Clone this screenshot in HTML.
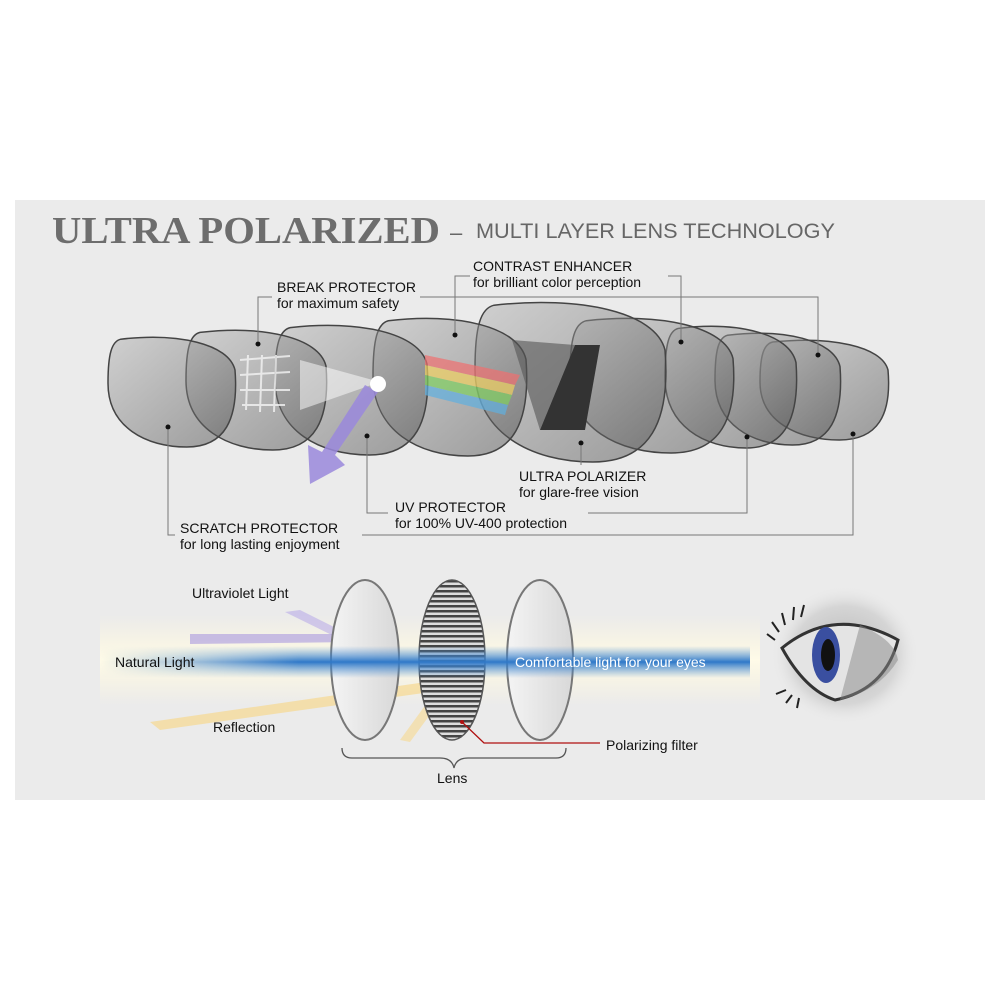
<!DOCTYPE html>
<html><head><meta charset="utf-8"><style>
html,body{margin:0;padding:0;background:#fff;width:1000px;height:1000px;overflow:hidden}
svg{display:block}
.s{font-family:"Liberation Sans",sans-serif}
.t{font-family:"Liberation Serif",serif}
</style></head><body>
<svg width="1000" height="1000" viewBox="0 0 1000 1000" xmlns="http://www.w3.org/2000/svg">
<defs>
<linearGradient id="lg" x1="0" y1="0" x2="1" y2="1">
<stop offset="0" stop-color="#b5b5b5"/><stop offset="1" stop-color="#4a4a4a"/></linearGradient>
<path id="lens" vector-effect="non-scaling-stroke" d="M10,2 C55,-4 95,6 100,30 C103,75 92,100 62,100 C30,100 0,82 0,42 C0,15 3,4 10,2 Z"/>
<linearGradient id="beam" x1="0" y1="0" x2="0" y2="1">
<stop offset="0" stop-color="#fff8dc" stop-opacity="0"/><stop offset="0.5" stop-color="#fffbe8" stop-opacity="1"/><stop offset="1" stop-color="#fff8dc" stop-opacity="0"/></linearGradient>
<linearGradient id="blue" x1="0" y1="0" x2="0" y2="1">
<stop offset="0" stop-color="#5a9ad8" stop-opacity="0"/><stop offset="0.5" stop-color="#2f78c8"/><stop offset="1" stop-color="#5a9ad8" stop-opacity="0"/></linearGradient>
<linearGradient id="blueh" x1="0" y1="0" x2="1" y2="0">
<stop offset="0" stop-color="#fff" stop-opacity="0"/><stop offset="0.3" stop-color="#fff" stop-opacity="1"/><stop offset="1" stop-color="#fff" stop-opacity="1"/></linearGradient>
<mask id="bm"><rect x="100" y="630" width="660" height="60" fill="url(#blueh)"/></mask>
<linearGradient id="disc" x1="0" y1="0" x2="1" y2="0">
<stop offset="0" stop-color="#f4f4f4"/><stop offset="1" stop-color="#d8d8d8"/></linearGradient>
<pattern id="stripes" width="4" height="5" patternUnits="userSpaceOnUse"><rect width="4" height="5" fill="#ddd"/><rect width="4" height="2.5" fill="#444"/></pattern>
<radialGradient id="eyeg" cx="0.5" cy="0.5" r="0.5"><stop offset="0" stop-color="#777"/><stop offset="0.7" stop-color="#bbb"/><stop offset="1" stop-color="#eee" stop-opacity="0"/></radialGradient>
</defs>
<rect x="15" y="200" width="970" height="600" fill="#ebebeb"/>
<text class="t" x="52" y="243" font-size="38" font-weight="bold" fill="#6d6d6d" textLength="388" lengthAdjust="spacingAndGlyphs">ULTRA POLARIZED</text>
<text class="s" x="450" y="240" font-size="22" fill="#666">–</text>
<text class="s" x="476" y="238" font-size="21" fill="#666" textLength="359" lengthAdjust="spacingAndGlyphs">MULTI LAYER LENS TECHNOLOGY</text>

<g fill="url(#lg)" fill-opacity="0.5" stroke="#444" stroke-width="1.5">
<use href="#lens" transform="translate(760,340) scale(1.28,1.0)"/>
<use href="#lens" transform="translate(715,333) scale(1.25,1.12)"/>
<use href="#lens" transform="translate(665,326) scale(1.31,1.22)"/>
<use href="#lens" transform="translate(570,318) scale(1.63,1.35)"/>
<use href="#lens" transform="translate(475,302) scale(1.9,1.6)"/>
<use href="#lens" transform="translate(373,318) scale(1.53,1.38)"/>
<use href="#lens" transform="translate(275,325) scale(1.52,1.3)"/>
<use href="#lens" transform="translate(186,330) scale(1.4,1.2)"/>
<use href="#lens" transform="translate(108,337) scale(1.27,1.1)"/>
</g>
<g stroke="#f4f4f4" stroke-width="2" opacity="0.8">
<line x1="240" y1="360" x2="290" y2="356"/><line x1="240" y1="375" x2="290" y2="372"/><line x1="240" y1="390" x2="290" y2="390"/><line x1="242" y1="405" x2="285" y2="405"/>
<line x1="248" y1="355" x2="246" y2="410"/><line x1="262" y1="355" x2="260" y2="412"/><line x1="276" y1="355" x2="274" y2="412"/>
</g>
<polygon points="300,360 380,382 300,410" fill="#fff" opacity="0.5"/>
<polygon points="365,385 378,392 335,455 345,465 310,484 308,445 322,452" fill="#9a88dc" opacity="0.85"/>
<circle cx="378" cy="384" r="8" fill="#fff"/>
<g opacity="0.7">
<polygon points="425,355 520,375 515,385 425,365" fill="#f07070"/>
<polygon points="425,365 515,385 512,395 425,375" fill="#f0d060"/>
<polygon points="425,375 512,395 508,405 425,385" fill="#80d060"/>
<polygon points="425,385 508,405 505,415 425,395" fill="#60b0e0"/>
</g>
<polygon points="512,340 575,345 540,430" fill="#555" opacity="0.6"/>
<polygon points="600,345 575,345 540,430 585,430" fill="#333"/>
<g fill="#111"><circle cx="258" cy="344" r="2.5"/><circle cx="455" cy="335" r="2.5"/><circle cx="681" cy="342" r="2.5"/><circle cx="818" cy="355" r="2.5"/><circle cx="168" cy="427" r="2.5"/><circle cx="367" cy="436" r="2.5"/><circle cx="581" cy="443" r="2.5"/><circle cx="747" cy="437" r="2.5"/><circle cx="853" cy="434" r="2.5"/></g>
<g stroke="#777" stroke-width="1" fill="none">
<polyline points="258,341 258,297 272,297"/><polyline points="420,297 818,297 818,352"/>
<polyline points="455,332 455,276 470,276"/><polyline points="668,276 681,276 681,339"/>
<line x1="581" y1="446" x2="581" y2="465"/>
<polyline points="367,439 367,513 388,513"/><polyline points="588,513 747,513 747,440"/>
<polyline points="168,430 168,535 175,535"/><polyline points="362,535 853,535 853,437"/>
</g>
<g class="s" font-size="14" fill="#111">
<text x="277" y="292">BREAK PROTECTOR</text><text x="277" y="308">for maximum safety</text>
<text x="473" y="271">CONTRAST ENHANCER</text><text x="473" y="287">for brilliant color perception</text>
<text x="519" y="481">ULTRA POLARIZER</text><text x="519" y="497">for glare-free vision</text>
<text x="395" y="512">UV PROTECTOR</text><text x="395" y="528">for 100% UV-400 protection</text>
<text x="180" y="533">SCRATCH PROTECTOR</text><text x="180" y="549">for long lasting enjoyment</text>
</g>
<rect x="100" y="615" width="660" height="90" fill="url(#beam)"/>
<polygon points="190,634 350,634 356,642 190,644" fill="#a898e0" opacity="0.6"/>
<polygon points="285,612 300,610 356,638 346,642" fill="#b0a0e8" opacity="0.5"/>
<polygon points="150,722 440,680 445,690 160,730" fill="#f6d890" opacity="0.7"/>
<polygon points="400,740 440,685 448,690 410,742" fill="#f6d890" opacity="0.6"/>
<ellipse cx="365" cy="660" rx="34" ry="80" fill="url(#disc)" stroke="#777" stroke-width="2"/>
<ellipse cx="452" cy="660" rx="33" ry="80" fill="url(#stripes)" stroke="#555" stroke-width="1.5"/>
<ellipse cx="540" cy="660" rx="33" ry="80" fill="url(#disc)" stroke="#777" stroke-width="2"/>
<rect x="100" y="646" width="650" height="32" fill="url(#blue)" mask="url(#bm)"/>
<text class="s" x="515" y="667" font-size="14" fill="#fff">Comfortable light for your eyes</text>
<g class="s" font-size="14" fill="#111">
<text x="192" y="598">Ultraviolet Light</text>
<text x="115" y="667">Natural Light</text>
<text x="213" y="732">Reflection</text>
<text x="606" y="750">Polarizing filter</text>
<text x="437" y="783">Lens</text>
</g>
<polyline points="462,722 484,743 600,743" fill="none" stroke="#b01010" stroke-width="1.3"/>
<circle cx="462" cy="722" r="2" fill="#b01010"/>
<path d="M342,748 q0,10 10,10 h88 q12,0 14,10 q2,-10 14,-10 h88 q10,0 10,-10" fill="none" stroke="#555" stroke-width="1.3"/>
<ellipse cx="845" cy="655" rx="75" ry="70" fill="url(#eyeg)" opacity="0.45"/>
<path d="M782,648 Q835,605 898,640 Q885,690 835,700 Q805,690 782,648 Z" fill="#e4e4e4" stroke="#333" stroke-width="3"/>
<path d="M860,625 Q895,640 898,660 Q880,690 840,700 Z" fill="#888" opacity="0.5"/>
<ellipse cx="826" cy="655" rx="14" ry="28" fill="#3a4fa0"/>
<ellipse cx="828" cy="655" rx="7" ry="16" fill="#111"/>
<g stroke="#222" stroke-width="2">
<path d="M775,640 l-8,-6 M779,632 l-7,-10 M785,625 l-3,-12 M793,620 l1,-13 M801,617 l3,-12 M786,690 l-10,4 M792,695 l-6,8 M799,698 l-2,10"/>
</g>
</svg>
</body></html>
